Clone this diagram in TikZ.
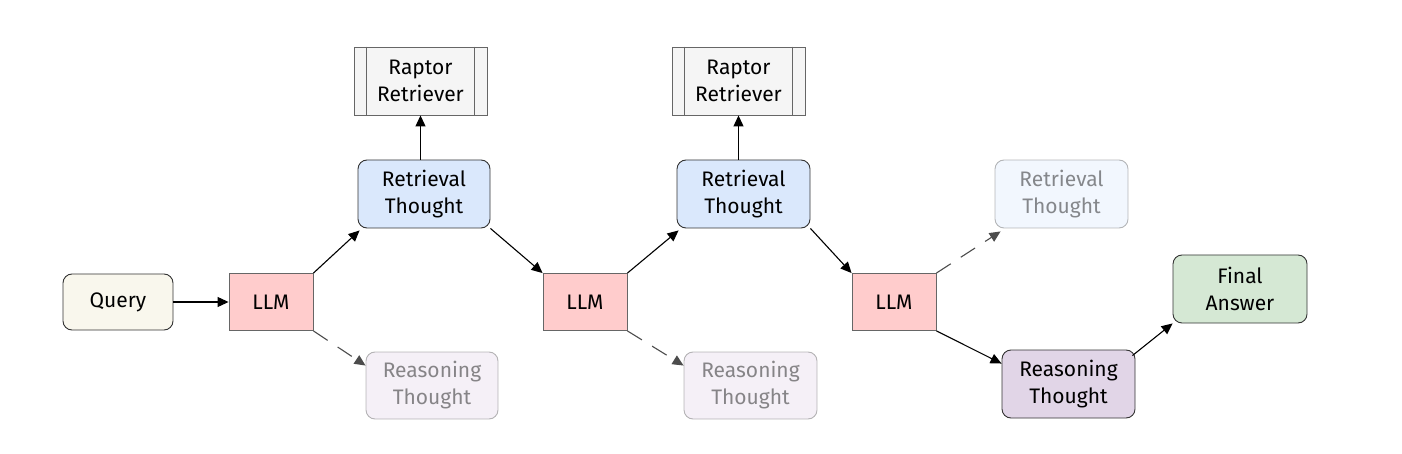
\documentclass[tikz,border=0pt]{standalone}
\usepackage{fontspec}
\setmainfont{Fira Sans}
\usetikzlibrary{arrows.meta}
\definecolor{qfill}{HTML}{F9F7ED}
\definecolor{llmfill}{HTML}{FFCCCC}
\definecolor{retfill}{HTML}{DAE8FC}
\definecolor{reafill}{HTML}{E1D5E7}
\definecolor{finfill}{HTML}{D5E8D4}
\definecolor{rapfill}{HTML}{F5F5F5}
\definecolor{edge}{HTML}{333333}
\tikzset{
  box/.style={draw=edge, line width=0.9pt, rounded corners=9pt, align=center,
    inner sep=0pt, font=\fontsize{21}{27}\selectfont},
  llmbox/.style={draw=black!60, line width=0.9pt, fill=llmfill, minimum width=84pt,
    minimum height=57pt, inner sep=0pt, font=\fontsize{21}{27}\selectfont},
  faded/.style={opacity=0.35, text opacity=0.45},
  arr/.style={-{Triangle[length=11pt,width=10pt]}, line width=1.1pt, draw=black},
  darr/.style={-{Triangle[length=11pt,width=10pt]}, line width=1.1pt, draw=black!70,
    dash pattern=on 17pt off 12pt},
}
\begin{document}
\begin{tikzpicture}[x=1pt,y=-1pt]
\useasboundingbox (0,0) rectangle (1402,454);
% nodes
\node[box, fill=qfill, minimum width=110pt, minimum height=56pt] (q) at (118,302) {Query};
\node[llmbox] (l1) at (271,302) {LLM};
\node[llmbox] (l2) at (585,302) {LLM};
\node[llmbox] (l3) at (894,302) {LLM};
\node[box, fill=retfill, minimum width=132pt, minimum height=68pt] (t1) at (424,194) {Retrieval\\Thought};
\node[box, fill=retfill, minimum width=133pt, minimum height=68pt] (t2) at (743.5,194) {Retrieval\\Thought};
\node[box, fill=retfill, minimum width=133pt, minimum height=68pt, faded] (t3) at (1061.5,194) {Retrieval\\Thought};
\node[box, fill=reafill, minimum width=132pt, minimum height=67pt, faded] (r1) at (432,385.5) {Reasoning\\Thought};
\node[box, fill=reafill, minimum width=133pt, minimum height=67pt, faded] (r2) at (750.5,385.5) {Reasoning\\Thought};
\node[box, fill=reafill, minimum width=133pt, minimum height=68pt] (r3) at (1068.5,384) {Reasoning\\Thought};
\node[box, fill=finfill, minimum width=134pt, minimum height=68pt] (f) at (1240,289) {Final\\Answer};
% raptor retrievers
\node[draw=black!60, line width=0.9pt, fill=rapfill, minimum width=133pt, minimum height=68pt,
  inner sep=0pt, align=center, font=\fontsize{21}{27}\selectfont] (p1) at (420.5,81) {Raptor\\Retriever};
\draw[black!60, line width=0.9pt] ([xshift=13pt]p1.north west) -- ([xshift=13pt]p1.south west)
  ([xshift=-13pt]p1.north east) -- ([xshift=-13pt]p1.south east);
\node[draw=black!60, line width=0.9pt, fill=rapfill, minimum width=133pt, minimum height=68pt,
  inner sep=0pt, align=center, font=\fontsize{21}{27}\selectfont] (p2) at (738.5,81) {Raptor\\Retriever};
\draw[black!60, line width=0.9pt] ([xshift=13pt]p2.north west) -- ([xshift=13pt]p2.south west)
  ([xshift=-13pt]p2.north east) -- ([xshift=-13pt]p2.south east);
% connectors
\draw[arr] (q) -- (l1);
\draw[arr] (l1.north east) -- ([xshift=2pt,yshift=-2pt]t1.south west);
\draw[arr] (t1.south east) -- (l2.north west);
\draw[arr] (l2.north east) -- ([xshift=2pt,yshift=-2pt]t2.south west);
\draw[arr] (t2.south east) -- (l3.north west);
\draw[arr] (t1.north -| p1.south) -- (p1.south);
\draw[arr] (t2.north -| p2.south) -- (p2.south);
\draw[darr] (l1.south east) -- ([yshift=-14pt]r1.north west);
\draw[darr] (l2.south east) -- ([yshift=-14pt]r2.north west);
\draw[darr] (l3.north east) -- ([xshift=6pt,yshift=-3pt]t3.south west);
\draw[arr] (l3.south east) -- ([yshift=-14pt]r3.north west);
\draw[arr] ([xshift=-3pt,yshift=-6pt]r3.north east) -- (f.south west);
\end{tikzpicture}
\end{document}
